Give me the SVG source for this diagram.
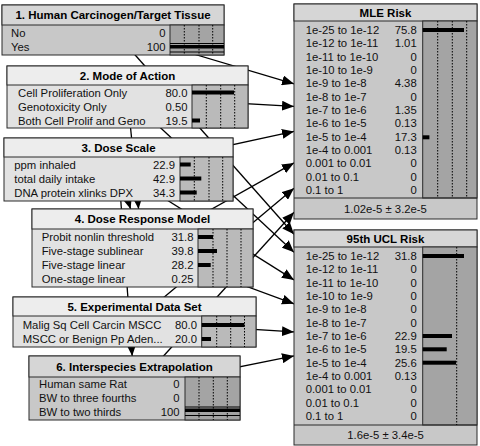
<svg xmlns="http://www.w3.org/2000/svg" width="480" height="446" viewBox="0 0 480 446">
<defs>
<marker id="ah" viewBox="0 0 12 10" refX="12" refY="5" markerWidth="12" markerHeight="10" markerUnits="userSpaceOnUse" orient="auto">
<path d="M0,0 L12,5 L0,10 Z" fill="#000"/>
</marker>
<style>
.box{stroke:#2a2a2a;stroke-width:1}
.lt{fill:#ededed}.lb{fill:#e2e2e2}.la{fill:#bababa}
.dt{fill:#d6d6d6}.db{fill:#c8c8c8}.da{fill:#a4a4a4}
.t{font-family:"Liberation Sans",Arial,sans-serif;font-size:11.5px;font-weight:bold;text-anchor:middle;fill:#000}
.l{font-family:"Liberation Sans",Arial,sans-serif;font-size:11.3px;fill:#111}
.n{font-family:"Liberation Sans",Arial,sans-serif;font-size:11.3px;fill:#111;text-anchor:end}
.s{font-family:"Liberation Sans",Arial,sans-serif;font-size:11.3px;fill:#111;text-anchor:middle}
.dot{stroke:#000;stroke-width:1;stroke-dasharray:1.5 1.5}
.bar{fill:#000}
#connectors line{stroke:#000;stroke-width:1.3}
</style>
</defs>
<rect width="480" height="446" fill="#fff"/>
<g id="connectors">
<line x1="113" y1="30" x2="294" y2="83.8" marker-end="url(#ah)"/>
<line x1="127.5" y1="97" x2="294" y2="106.4" marker-end="url(#ah)"/>
<line x1="118.5" y1="169.5" x2="294" y2="131.4" marker-end="url(#ah)"/>
<line x1="142.5" y1="248" x2="294" y2="162.9" marker-end="url(#ah)"/>
<line x1="134.5" y1="322" x2="294" y2="188.2" marker-end="url(#ah)"/>
<line x1="134.5" y1="388" x2="294" y2="212.3" marker-end="url(#ah)"/>
<line x1="113" y1="30" x2="294" y2="234.2" marker-end="url(#ah)"/>
<line x1="127.5" y1="97" x2="294" y2="252.2" marker-end="url(#ah)"/>
<line x1="118.5" y1="169.5" x2="294" y2="279.9" marker-end="url(#ah)"/>
<line x1="142.5" y1="248" x2="294" y2="303.8" marker-end="url(#ah)"/>
<line x1="134.5" y1="322" x2="294" y2="331.9" marker-end="url(#ah)"/>
<line x1="134.5" y1="388" x2="294" y2="355.9" marker-end="url(#ah)"/>
<line x1="127.5" y1="97" x2="138.6" y2="209" marker-end="url(#ah)"/>
<line x1="118.5" y1="169.5" x2="130.6" y2="209" marker-end="url(#ah)"/>
<line x1="118.5" y1="169.5" x2="132.2" y2="356" marker-end="url(#ah)"/>
</g>

<g id="n1">
<rect class="box db" x="2" y="5" width="222" height="50"/>
<rect class="box dt" x="2" y="5" width="222" height="20"/>
<rect class="box da" x="170" y="25" width="54" height="30"/>
<line class="dot" x1="184.3" y1="25" x2="184.3" y2="55"/><line class="dot" x1="199" y1="25" x2="199" y2="55"/><line class="dot" x1="212.7" y1="25" x2="212.7" y2="55"/>
<text class="t" x="113" y="19.2">1. Human Carcinogen/Target Tissue</text>
<text class="l" x="11" y="36.5">No</text><text class="n" x="165.5" y="36.5">0</text>
<text class="l" x="11" y="50.5">Yes</text><text class="n" x="165.5" y="50.5">100</text>
<rect class="bar" x="170" y="43" width="54" height="1"/><rect class="bar" x="170" y="45" width="54" height="3.5"/><rect class="bar" x="170" y="51.5" width="54" height="1"/>
</g>

<g id="n2">
<rect class="box lb" x="7" y="66" width="241" height="62"/>
<rect class="box lt" x="7" y="66" width="241" height="19"/>
<rect class="box la" x="192" y="85" width="56" height="43"/>
<line class="dot" x1="206.3" y1="85" x2="206.3" y2="128"/><line class="dot" x1="220.7" y1="85" x2="220.7" y2="128"/><line class="dot" x1="234.7" y1="85" x2="234.7" y2="128"/>
<text class="t" x="127.5" y="79.7">2. Mode of Action</text>
<text class="l" x="18" y="96.5">Cell Proliferation Only</text><text class="n" x="187.5" y="96.5">80.0</text>
<text class="l" x="18" y="110.5">Genotoxicity  Only</text><text class="n" x="187.5" y="110.5">0.50</text>
<text class="l" x="18" y="124.5">Both Cell Prolif  and Geno</text><text class="n" x="187.5" y="124.5">19.5</text>
<rect class="bar" x="192" y="90.5" width="42" height="4"/>
<rect class="bar" x="192" y="118.5" width="8" height="4"/>
</g>

<g id="n3">
<rect class="box lb" x="4" y="138" width="229" height="63"/>
<rect class="box lt" x="4" y="138" width="229" height="19"/>
<rect class="box la" x="180" y="157" width="53" height="44"/>
<line class="dot" x1="194.3" y1="157" x2="194.3" y2="201"/><line class="dot" x1="209" y1="157" x2="209" y2="201"/><line class="dot" x1="222.7" y1="157" x2="222.7" y2="201"/>
<text class="t" x="118.5" y="151.7">3. Dose Scale</text>
<text class="l" x="14.3" y="168.5">ppm inhaled</text><text class="n" x="175" y="168.5">22.9</text>
<text class="l" x="14.3" y="182.5">total daily  intake</text><text class="n" x="175" y="182.5">42.9</text>
<text class="l" x="14.3" y="196.5">DNA protein xlinks DPX</text><text class="n" x="175" y="196.5">34.3</text>
<rect class="bar" x="180" y="162.5" width="10.7" height="4"/>
<rect class="bar" x="180" y="176.5" width="21.3" height="4"/>
<rect class="bar" x="180" y="190.5" width="16.7" height="4"/>
</g>

<g id="n4">
<rect class="box lb" x="32" y="209" width="221" height="78"/>
<rect class="box lt" x="32" y="209" width="221" height="20"/>
<rect class="box la" x="198" y="229" width="55" height="58"/>
<line class="dot" x1="213" y1="229" x2="213" y2="287"/><line class="dot" x1="227" y1="229" x2="227" y2="287"/><line class="dot" x1="241" y1="229" x2="241" y2="287"/>
<text class="t" x="142.5" y="223.2">4. Dose Response Model</text>
<text class="l" x="41.7" y="241">Probit nonlin threshold</text><text class="n" x="193.5" y="241">31.8</text>
<text class="l" x="41.7" y="255">Five-stage sublinear</text><text class="n" x="193.5" y="255">39.8</text>
<text class="l" x="41.7" y="269">Five-stage linear</text><text class="n" x="193.5" y="269">28.2</text>
<text class="l" x="41.7" y="283">One-stage linear</text><text class="n" x="193.5" y="283">0.25</text>
<rect class="bar" x="198" y="235" width="15" height="4"/>
<rect class="bar" x="198" y="249" width="19" height="4"/>
<rect class="bar" x="198" y="263" width="12.7" height="4"/>
</g>

<g id="n5">
<rect class="box lb" x="13" y="297" width="243" height="50"/>
<rect class="box lt" x="13" y="297" width="243" height="19"/>
<rect class="box la" x="201.7" y="316" width="54.3" height="31"/>
<line class="dot" x1="216.7" y1="316" x2="216.7" y2="347"/><line class="dot" x1="230.7" y1="316" x2="230.7" y2="347"/><line class="dot" x1="244.5" y1="316" x2="244.5" y2="347"/>
<text class="t" x="134.5" y="310.7">5. Experimental Data Set</text>
<text class="l" x="22.7" y="329">Malig Sq Cell Carcin MSCC</text><text class="n" x="197" y="329">80.0</text>
<text class="l" x="22.7" y="343">MSCC or Benign Pp Aden...</text><text class="n" x="197" y="343">20.0</text>
<rect class="bar" x="201.7" y="323" width="42.7" height="4"/>
<rect class="bar" x="201.7" y="337" width="9.3" height="4"/>
</g>

<g id="n6">
<rect class="box db" x="29" y="356" width="211" height="64"/>
<rect class="box dt" x="29" y="356" width="211" height="21"/>
<rect class="box da" x="185" y="377" width="55" height="43"/>
<line class="dot" x1="199" y1="377" x2="199" y2="420"/><line class="dot" x1="213.3" y1="377" x2="213.3" y2="420"/><line class="dot" x1="227.3" y1="377" x2="227.3" y2="420"/>
<text class="t" x="134.5" y="370.7">6. Interspecies Extrapolation</text>
<text class="l" x="39" y="388">Human same Rat</text><text class="n" x="179.5" y="388">0</text>
<text class="l" x="39" y="402">BW to three fourths</text><text class="n" x="179.5" y="402">0</text>
<text class="l" x="39" y="416">BW to two thirds</text><text class="n" x="179.5" y="416">100</text>
<rect class="bar" x="185" y="406.5" width="55" height="1"/><rect class="bar" x="185" y="408.5" width="55" height="3.5"/><rect class="bar" x="185" y="415" width="55" height="1"/>
</g>

<g id="mle">
<rect class="box db" x="294" y="4" width="183" height="215"/>
<rect class="box dt" x="294" y="4" width="183" height="17"/>
<rect class="box da" x="422.7" y="21" width="54.3" height="177"/>
<line class="box" x1="294" y1="198" x2="477" y2="198"/>
<line class="dot" x1="437.7" y1="21" x2="437.7" y2="198"/><line class="dot" x1="452.3" y1="21" x2="452.3" y2="198"/><line class="dot" x1="466.7" y1="21" x2="466.7" y2="198"/>
<text class="t" x="385.5" y="16.7">MLE Risk</text>
<text class="l" x="305.7" y="34">1e-25 to 1e-12</text><text class="n" x="416.7" y="34">75.8</text>
<text class="l" x="305.7" y="47.3">1e-12 to 1e-11</text><text class="n" x="416.7" y="47.3">1.01</text>
<text class="l" x="305.7" y="60.7">1e-11 to 1e-10</text><text class="n" x="416.7" y="60.7">0</text>
<text class="l" x="305.7" y="74">1e-10 to 1e-9</text><text class="n" x="416.7" y="74">0</text>
<text class="l" x="305.7" y="87.3">1e-9 to 1e-8</text><text class="n" x="416.7" y="87.3">4.38</text>
<text class="l" x="305.7" y="100.7">1e-8 to 1e-7</text><text class="n" x="416.7" y="100.7">0</text>
<text class="l" x="305.7" y="114">1e-7 to 1e-6</text><text class="n" x="416.7" y="114">1.35</text>
<text class="l" x="305.7" y="127.3">1e-6 to 1e-5</text><text class="n" x="416.7" y="127.3">0.13</text>
<text class="l" x="305.7" y="140.7">1e-5 to 1e-4</text><text class="n" x="416.7" y="140.7">17.3</text>
<text class="l" x="305.7" y="154">1e-4 to 0.001</text><text class="n" x="416.7" y="154">0.13</text>
<text class="l" x="305.7" y="167.3">0.001 to 0.01</text><text class="n" x="416.7" y="167.3">0</text>
<text class="l" x="305.7" y="180.7">0.01 to 0.1</text><text class="n" x="416.7" y="180.7">0</text>
<text class="l" x="305.7" y="194">0.1 to 1</text><text class="n" x="416.7" y="194">0</text>
<rect class="bar" x="422.7" y="28" width="41.3" height="4"/>
<rect class="bar" x="422.7" y="135.3" width="6.7" height="4"/>
<text class="s" x="385.5" y="212.5">1.02e-5 ± 3.2e-5</text>
</g>

<g id="ucl">
<rect class="box db" x="294" y="230" width="183" height="215"/>
<rect class="box dt" x="294" y="230" width="183" height="17"/>
<rect class="box da" x="422.7" y="247" width="54.3" height="178"/>
<line class="box" x1="294" y1="425" x2="477" y2="425"/>
<line class="dot" x1="456.7" y1="247" x2="456.7" y2="425"/>
<text class="t" x="385.5" y="242.7">95th UCL Risk</text>
<text class="l" x="305.7" y="260">1e-25 to 1e-12</text><text class="n" x="416.7" y="260">31.8</text>
<text class="l" x="305.7" y="273.3">1e-12 to 1e-11</text><text class="n" x="416.7" y="273.3">0</text>
<text class="l" x="305.7" y="286.7">1e-11 to 1e-10</text><text class="n" x="416.7" y="286.7">0</text>
<text class="l" x="305.7" y="300">1e-10 to 1e-9</text><text class="n" x="416.7" y="300">0</text>
<text class="l" x="305.7" y="313.3">1e-9 to 1e-8</text><text class="n" x="416.7" y="313.3">0</text>
<text class="l" x="305.7" y="326.7">1e-8 to 1e-7</text><text class="n" x="416.7" y="326.7">0</text>
<text class="l" x="305.7" y="340">1e-7 to 1e-6</text><text class="n" x="416.7" y="340">22.9</text>
<text class="l" x="305.7" y="353.3">1e-6 to 1e-5</text><text class="n" x="416.7" y="353.3">19.5</text>
<text class="l" x="305.7" y="366.7">1e-5 to 1e-4</text><text class="n" x="416.7" y="366.7">25.6</text>
<text class="l" x="305.7" y="380">1e-4 to 0.001</text><text class="n" x="416.7" y="380">0.13</text>
<text class="l" x="305.7" y="393.3">0.001 to 0.01</text><text class="n" x="416.7" y="393.3">0</text>
<text class="l" x="305.7" y="406.7">0.01 to 0.1</text><text class="n" x="416.7" y="406.7">0</text>
<text class="l" x="305.7" y="420">0.1 to 1</text><text class="n" x="416.7" y="420">0</text>
<rect class="bar" x="422.7" y="254" width="41.3" height="4"/>
<rect class="bar" x="422.7" y="334" width="29.3" height="4"/>
<rect class="bar" x="422.7" y="347.3" width="24" height="4"/>
<rect class="bar" x="422.7" y="360.7" width="33.3" height="4"/>
<text class="s" x="385.5" y="439">1.6e-5 ± 3.4e-5</text>
</g>
</svg>
